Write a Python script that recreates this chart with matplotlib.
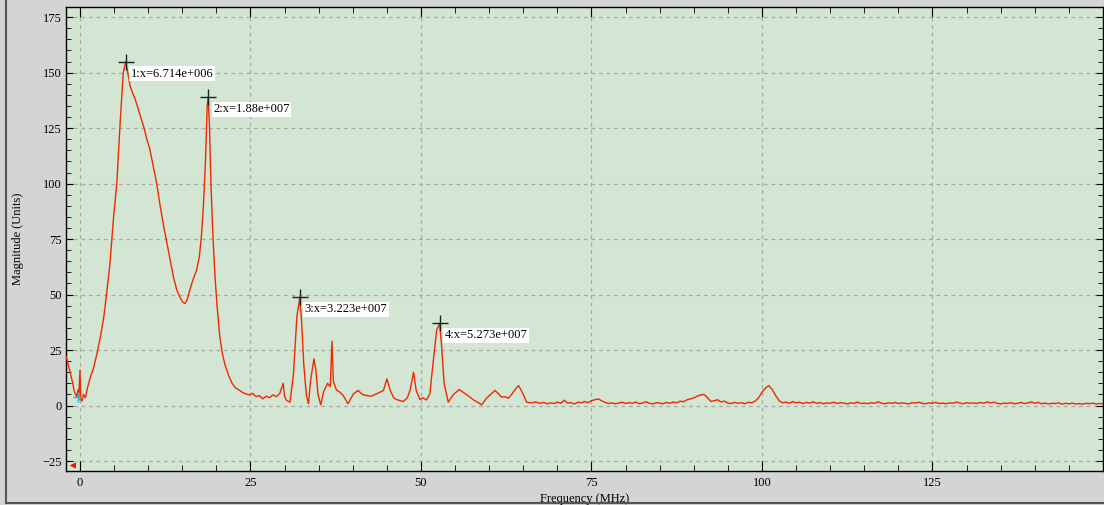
import matplotlib
matplotlib.use("Agg")
import matplotlib.pyplot as plt
from matplotlib.lines import Line2D
from matplotlib.ticker import MultipleLocator

# ---------------- data ----------------
freq_mhz = [
    -2.0, -1.7, -1.4, -1.1, -0.8, -0.5, -0.3, -0.2, 0.0, 0.1, 0.3, 0.5, 0.8, 1.1, 1.5,
    2.0, 2.5, 3.0, 3.5, 4.0, 4.4, 4.9, 5.4, 5.9, 6.35, 6.71, 7.0, 7.35, 7.7, 8.1, 8.5,
    8.9, 9.4, 9.8, 10.2, 10.6, 11.0, 11.3, 11.7, 12.2, 12.7, 13.2, 13.7, 14.2, 14.7,
    15.1, 15.4, 15.7, 16.1, 16.6, 17.1, 17.5, 17.8, 18.1, 18.4, 18.65, 18.8, 19.0,
    19.2, 19.5, 19.8, 20.1, 20.5, 20.9, 21.3, 21.8, 22.3, 22.8, 23.3, 23.8, 24.3,
    24.8, 25.3, 25.8, 26.3, 26.8, 27.3, 27.8, 28.3, 28.8, 29.3, 29.8, 30.0, 30.3,
    30.8, 31.3, 31.8, 32.23, 32.5, 32.8, 33.2, 33.5, 33.8, 34.3, 34.6, 34.9, 35.3,
    35.7, 36.3, 36.7, 36.95, 37.15, 37.6, 38.1, 38.6, 39.3, 40.1, 40.8, 41.4, 42.0,
    42.7, 43.5, 44.5, 45.0, 45.5, 46.0, 46.4, 47.4, 48.0, 48.4, 48.9, 49.3, 49.85,
    50.3, 50.8, 51.3, 51.8, 52.3, 52.73, 53.0, 53.4, 54.0, 54.7, 55.6, 56.5, 57.1,
    57.7, 58.3, 58.9, 59.6, 60.2, 60.85, 61.3, 61.8, 62.3, 62.8, 63.3, 63.7, 64.3,
    64.8, 65.5, 66.2, 66.8, 67.4,
    68.0, 68.5, 69.0, 69.5, 70.0, 70.5, 71.0, 71.5, 72.0, 72.5, 73.0, 73.5, 74.0,
    74.5, 75.0, 75.5, 76.0, 76.5, 77.0, 77.5, 78.0, 78.5, 79.0, 79.5, 80.0, 80.5,
    81.0, 81.5, 82.0, 82.5, 83.0, 83.5, 84.0, 84.5, 85.0, 85.5, 86.0, 86.5, 87.0,
    87.5, 88.0, 88.5, 89.0, 89.5, 90.0, 90.5, 91.0, 91.5, 92.0, 92.5, 93.0, 93.5,
    94.0, 94.5, 95.0, 95.5, 96.0, 96.5, 97.0, 97.5, 98.0, 98.5, 99.0, 99.5, 100.0,
    100.5, 101.0, 101.5, 102.0, 102.5, 103.0, 103.5, 104.0, 104.5, 105.0, 105.5,
    106.0, 106.5, 107.0, 107.5, 108.0, 108.5, 109.0, 109.5, 110.0, 110.5, 111.0,
    111.5, 112.0, 112.5, 113.0, 113.5, 114.0, 114.5, 115.0, 115.5, 116.0, 116.5,
    117.0, 117.5, 118.0, 118.5, 119.0, 119.5, 120.0, 120.5, 121.0, 121.5, 122.0,
    122.5, 123.0, 123.5, 124.0, 124.5, 125.0, 125.5, 126.0, 126.5, 127.0, 127.5,
    128.0, 128.5, 129.0, 129.5, 130.0, 130.5, 131.0, 131.5, 132.0, 132.5, 133.0,
    133.5, 134.0, 134.5, 135.0, 135.5, 136.0, 136.5, 137.0, 137.5, 138.0, 138.5,
    139.0, 139.5, 140.0, 140.5, 141.0, 141.5, 142.0, 142.5, 143.0, 143.5, 144.0,
    144.5, 145.0, 145.5, 146.0, 146.5, 147.0, 147.5, 148.0, 148.5, 149.0, 149.5, 150.0,
]

magnitude = [
    22, 18, 14.5, 10.5, 6, 4, 7, 2.5, 16, 3, 2, 5, 3.5, 8, 12.5,
    17, 23.5, 31, 40, 53, 64, 84, 100, 128, 150, 155, 150, 144, 141, 138, 134,
    130, 125, 120, 116, 110, 104, 99, 91, 82, 74, 66, 58, 52, 48.5,
    46.5, 46, 47.5, 52, 57, 61, 67, 76, 90, 110, 135, 139, 125,
    100, 76, 58, 45, 31, 23, 18, 13.5, 10, 8, 7, 6, 5.2,
    4.8, 5.5, 4, 4.5, 3, 4.2, 3.5, 4.8, 4, 5.5, 10, 4, 2.3,
    1.5, 14, 40, 48.5, 38, 19, 4.5, 0.8, 11, 21, 15.8, 5, 0.3,
    6, 10, 8.5, 29, 11, 7, 6, 4.5, 0.8, 5.3, 6.8, 5, 4.5,
    4.2, 5.3, 6.8, 12, 6.8, 3.5, 2.7, 1.8, 3.5, 6.8, 15, 6.8, 2.7,
    3.5, 2.5, 5.3, 20, 34, 37, 27.8, 9.8, 1.5, 4.8, 7.2, 5.3, 4,
    2.5, 1.5, 0.3, 3.3, 5, 6.8, 5.5, 3.8, 4, 3.3, 5, 6.8, 9,
    6.3, 1.5, 1.2, 1.6, 1.0,
    1.4, 0.8, 1.2, 0.9, 1.6, 1.0, 2.4, 1.1, 1.3, 0.7, 1.5, 1.2, 1.8,
    1.3, 2.2, 2.6, 3.0, 2.1, 1.4, 0.9, 1.2, 0.8, 1.1, 1.5, 0.9, 1.3,
    1.0, 1.6, 0.8, 1.2, 1.7, 1.0, 0.7, 1.3, 1.1, 0.8, 1.4, 1.0, 1.6,
    1.2, 2.0, 1.7, 2.6, 3.0, 3.4, 4.2, 4.8, 5.0, 3.6, 1.8, 2.2, 2.6,
    1.6, 2.0, 1.1, 0.9, 1.4, 1.0, 1.3, 0.8, 1.5, 1.2, 2.0, 3.5, 6.0,
    7.8, 9.0, 7.2, 4.5, 2.2, 1.2, 1.6, 1.0, 1.8, 1.2, 1.5,
    0.9, 1.4, 1.1, 1.7, 1.0, 1.3, 0.8, 1.2, 1.0, 1.5, 0.9,
    1.3, 1.1, 0.7, 1.2, 1.0, 1.6, 0.9, 1.1, 0.8, 1.3, 1.0,
    1.7, 1.1, 0.8, 1.2, 1.0, 1.4, 0.9, 1.2, 1.0, 0.7, 1.3,
    1.1, 1.5, 1.0, 0.8, 1.2, 1.0, 1.4, 0.9, 1.1, 0.8, 1.2,
    1.0, 1.6, 1.1, 0.8, 1.3, 1.0, 1.2, 0.9, 1.4, 1.0, 1.7,
    1.2, 1.5, 1.0, 0.7, 1.1, 0.9, 1.3, 0.8, 1.0, 1.4, 0.9,
    1.2, 1.6, 1.0, 1.4, 0.8, 1.1, 0.7, 1.0, 0.9, 1.2, 0.6,
    1.0, 0.8, 1.1, 0.7, 0.9, 0.6, 1.0, 0.8, 1.1, 0.7, 0.9, 0.8,
]

marker_freq = [6.714, 18.8, 32.23, 52.73]
marker_mag = [155, 139, 48.7, 37]
marker_labels = ["1:x=6.714e+006", "2:x=1.88e+007", "3:x=3.223e+007", "4:x=5.273e+007"]

x_ticks = [0, 25, 50, 75, 100, 125]
y_ticks = [-25, 0, 25, 50, 75, 100, 125, 150, 175]

# ---------------- figure ----------------
W, H, DPI = 1104, 505, 100
plt.rcParams["font.family"] = ["Liberation Serif", "DejaVu Serif"]
fig = plt.figure(figsize=(W / DPI, H / DPI), dpi=DPI, facecolor="#d4d4d4")

ax_l, ax_r, ax_t, ax_b = 66, 1103, 6.5, 471
ax = fig.add_axes([ax_l / W, 1 - ax_b / H, (ax_r - ax_l) / W, (ax_b - ax_t) / H])
ax.set_facecolor("#d3e5d3")

ax.plot(freq_mhz, magnitude, color="#f02800", lw=1.0, zorder=3)

# peak markers with labels
for fx, my, lab in zip(marker_freq, marker_mag, marker_labels):
    ax.plot([fx], [my], marker="+", color="#202020", ms=11, mew=1.0, zorder=5)
    ax.annotate(lab, xy=(fx, my), xytext=(5, -6), textcoords="offset pixels",
                ha="left", va="top", fontsize=9, color="black", zorder=6,
                bbox=dict(boxstyle="square,pad=0.12", fc="white", ec="none"))

# small cyan cursor near origin
ax.plot([-0.25], [4], marker="+", color="#30b8d0", ms=7, mew=1.0, zorder=4)
# tiny red scroll arrow in corner
ax.plot([0.006], [0.012], marker="<", color="#e82000", ms=5.5, mec="white", mew=0.5,
        transform=ax.transAxes, zorder=6, clip_on=False)

ax.set_xlim(-2.05, 150.0)
ax.set_ylim(-29.5, 179.8)
ax.set_xticks(x_ticks)
ax.set_yticks(y_ticks)
ax.xaxis.set_minor_locator(MultipleLocator(5))
ax.yaxis.set_minor_locator(MultipleLocator(5))
ax.tick_params(axis="both", which="both", direction="in", top=True, right=True,
               labelsize=9, colors="black")
ax.tick_params(axis="x", which="major", length=7, pad=4)
ax.tick_params(axis="x", which="minor", length=4)
ax.tick_params(axis="y", which="major", length=5, pad=3)
ax.tick_params(axis="y", which="minor", length=3.5)
ax.grid(True, which="major", color="#a8a8a8", linestyle=(0, (3, 3)), linewidth=0.9)
ax.set_axisbelow(True)
for s in ax.spines.values():
    s.set_color("black")
    s.set_linewidth(1.0)

ax.set_xlabel("Frequency (MHz)", fontsize=9, labelpad=3)
ax.set_ylabel("Magnitude (Units)", fontsize=9, labelpad=13)

# outer panel border lines
def fig_line(x0, y0, x1, y1, color="#555555", lw=1.5):
    fig.add_artist(Line2D([x0 / W, x1 / W], [1 - y0 / H, 1 - y1 / H],
                          transform=fig.transFigure, color=color, lw=lw))

fig_line(6, 0, 6, 503)
fig_line(6, 503, W, 503)

fig.savefig("out.png", dpi=DPI, facecolor=fig.get_facecolor())
